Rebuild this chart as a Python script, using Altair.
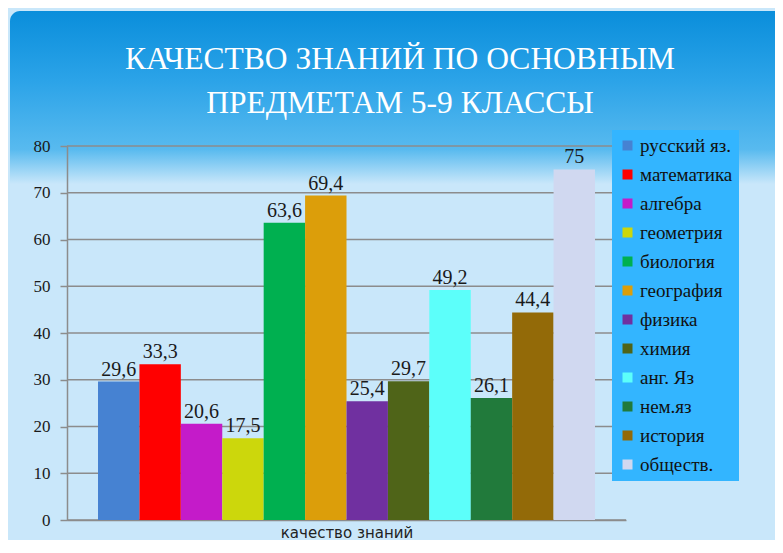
import altair as alt
import pandas as pd

subjects = ["русский яз.", "математика", "алгебра", "геометрия", "биология", "география",
            "физика", "химия", "анг. Яз", "нем.яз", "история", "обществ."]
values = [29.6, 33.3, 20.6, 17.5, 63.6, 69.4, 25.4, 29.7, 49.2, 26.1, 44.4, 75]
colors = ["#4682D2", "#FF0000", "#C41BC9", "#CCD70C", "#00B050", "#DC9E0A",
          "#7030A0", "#4F6418", "#5CFFFA", "#217A3B", "#936A08", "#D0D8F0"]
category = "качество знаний"
title_lines = ["КАЧЕСТВО ЗНАНИЙ ПО ОСНОВНЫМ", "ПРЕДМЕТАМ 5-9 КЛАССЫ"]
y_ticks = [0, 10, 20, 30, 40, 50, 60, 70, 80]

df = pd.DataFrame({"subject": subjects, "value": values})
df["group"] = category
df["label"] = [f"{v:g}".replace(".", ",") for v in values]
grid_df = pd.DataFrame({"value": y_ticks})

W, H = 767, 532
PL, PT = 59, 138
PW, PH = 559, 374

serif = "Liberation Serif"
grey = "#8C8C8C"

top_grad = alt.LinearGradient(
    gradient="linear", x1=0, x2=0, y1=0, y2=1,
    stops=[alt.GradientStop(color="#0A8EDB", offset=0),
           alt.GradientStop(color="#2BA3E8", offset=0.4),
           alt.GradientStop(color="#58BAEF", offset=0.8),
           alt.GradientStop(color="#C9E7FA", offset=1)])

one = alt.Data(values=[{}])
bg = alt.Chart(one).mark_rect(color=top_grad, cornerRadiusTopLeft=10).encode(
    x=alt.value(-57), x2=alt.value(W - PL), y=alt.value(-135), y2=alt.value(38)
)
t1 = alt.Chart(one).mark_text(text=title_lines[0], font=serif, fontSize=31.5, color="white",
                              align="center", baseline="alphabetic").encode(
    x=alt.value(333), y=alt.value(-77))
t2 = alt.Chart(one).mark_text(text=title_lines[1], font=serif, fontSize=31.5, color="white",
                              align="center", baseline="alphabetic").encode(
    x=alt.value(333), y=alt.value(-33))

y_enc = alt.Y("value:Q", scale=alt.Scale(domain=[0, 80], nice=False),
              axis=alt.Axis(values=y_ticks, title=None, grid=False,
                            domainColor=grey, domainWidth=1.5,
                            tickColor=grey, tickWidth=1.5, tickSize=7, labelPadding=10,
                            labelFont=serif, labelFontSize=17, labelColor="#1a1a1a",
                            zindex=1))

grid = alt.Chart(grid_df).mark_rule(color=grey, strokeWidth=1.5).encode(y=y_enc)

base = alt.Chart(df).encode(
    x=alt.X("group:N",
            scale=alt.Scale(paddingOuter=0.0624, paddingInner=0),
            axis=alt.Axis(labels=False, ticks=False, title=category, titleFont="DejaVu Sans",
                          titleFontSize=15, titleFontWeight="normal", titleColor="#222222",
                          titlePadding=5, domainColor=grey, domainWidth=1.5)),
    xOffset=alt.XOffset("subject:N", sort=subjects,
                        scale=alt.Scale(paddingInner=0, paddingOuter=0)),
    y=y_enc,
)

bars = base.mark_bar().encode(
    color=alt.Color("subject:N", sort=subjects,
                    scale=alt.Scale(domain=subjects, range=colors),
                    legend=alt.Legend(title=None, orient="none", legendX=545, legendY=-16,
                                      fillColor="#33B5FF", padding=6, symbolType="square",
                                      symbolSize=100, symbolStrokeWidth=0, labelFont=serif,
                                      labelFontSize=19, labelColor="#111111", labelOffset=3,
                                      rowPadding=9, labelLimit=200))
)

labels = base.mark_text(baseline="bottom", dy=-2, font=serif, fontSize=20,
                        color="#1a1a1a").encode(text="label:N")

chart = alt.layer(bg, t1, t2, grid, bars, labels).properties(
    width=PW, height=PH,
    background="#C9E7FA",
    autosize=alt.AutoSizeParams(type="none"),
    padding={"left": PL, "top": PT, "right": W - PL - PW, "bottom": H - PT - PH},
).configure_view(strokeWidth=0)

chart.save("out.html", embed_options={"renderer": "svg", "actions": False})
